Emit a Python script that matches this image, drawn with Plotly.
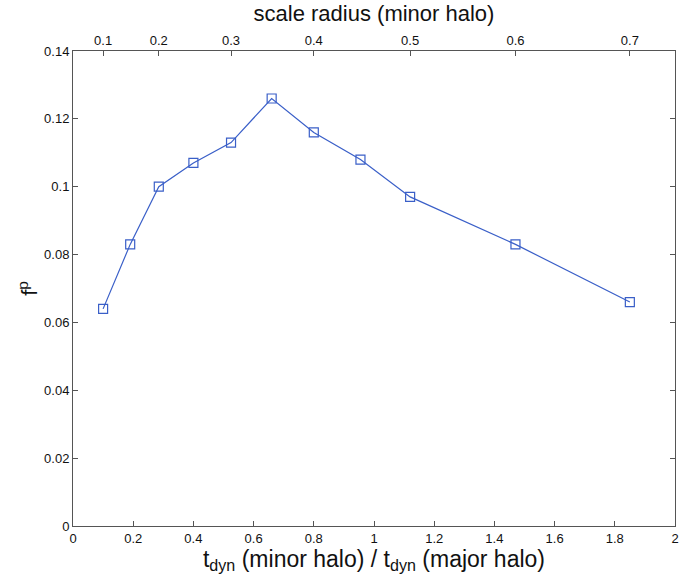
import plotly.graph_objects as go

# data
t_ratio = [0.10, 0.19, 0.285, 0.40, 0.525, 0.66, 0.80, 0.955, 1.12, 1.47, 1.85]
f_p = [0.064, 0.083, 0.100, 0.107, 0.113, 0.126, 0.116, 0.108, 0.097, 0.083, 0.066]
scale_radius = [0.1, 0.15, 0.2, 0.25, 0.3, 0.35, 0.4, 0.45, 0.5, 0.6, 0.7]
top_tick_labels = ["0.1", "0.2", "0.3", "0.4", "0.5", "0.6", "0.7"]
top_tick_index = [0, 2, 4, 6, 8, 9, 10]
top_tick_vals = [t_ratio[i] for i in top_tick_index]

x_ticks = [0, 0.2, 0.4, 0.6, 0.8, 1, 1.2, 1.4, 1.6, 1.8, 2]
x_tick_text = ["0", "0.2", "0.4", "0.6", "0.8", "1", "1.2", "1.4", "1.6", "1.8", "2"]
y_ticks = [0, 0.02, 0.04, 0.06, 0.08, 0.1, 0.12, 0.14]
y_tick_text = ["0", "0.02", "0.04", "0.06", "0.08", "0.1", "0.12", "0.14"]

FONT = "Liberation Sans, Arial, Helvetica, sans-serif"
AX = "#555555"
BLUE = "#3a5fc8"

fig = go.Figure()
fig.add_trace(go.Scatter(
    x=t_ratio, y=f_p, mode="lines+markers",
    line=dict(color=BLUE, width=1.2),
    marker=dict(symbol="square-open", size=9, color=BLUE, line=dict(width=1.2)),
    showlegend=False, hoverinfo="x+y",
))
# invisible trace for top axis
fig.add_trace(go.Scatter(x=t_ratio, y=f_p, xaxis="x2", mode="markers",
                         marker=dict(opacity=0), showlegend=False, hoverinfo="skip"))

fig.update_layout(
    width=682, height=583,
    margin=dict(l=73, r=3, t=51, b=57),
    paper_bgcolor="white", plot_bgcolor="white",
    font=dict(family=FONT, size=13, color="#111111"),
    xaxis=dict(
        range=[0, 2], tickvals=x_ticks, ticktext=x_tick_text,
        ticks="inside", ticklen=5, tickcolor=AX, showline=True, linecolor=AX, linewidth=1,
        showgrid=False, zeroline=False, mirror=False, ticklabeloverflow="allow",
        title=dict(text="t<sub>dyn</sub> (minor halo) / t<sub>dyn</sub> (major halo)",
                   font=dict(size=23), standoff=2),
    ),
    xaxis2=dict(
        range=[0, 2], overlaying="x", side="top",
        tickvals=top_tick_vals, ticktext=top_tick_labels,
        ticks="inside", ticklen=5, tickcolor=AX, showline=True, linecolor=AX, linewidth=1,
        showgrid=False, zeroline=False,
        title=dict(text="scale radius (minor halo)", font=dict(size=22), standoff=5),
    ),
    yaxis=dict(
        range=[0, 0.14], tickvals=y_ticks, ticktext=y_tick_text,
        ticks="inside", ticklen=5, tickcolor=AX, showline=True, linecolor=AX, linewidth=1,
        showgrid=False, zeroline=False, mirror="ticks",
        title=dict(text="f<sup>p</sup>", font=dict(size=22), standoff=0),
    ),
)

fig.write_html("out.html")
